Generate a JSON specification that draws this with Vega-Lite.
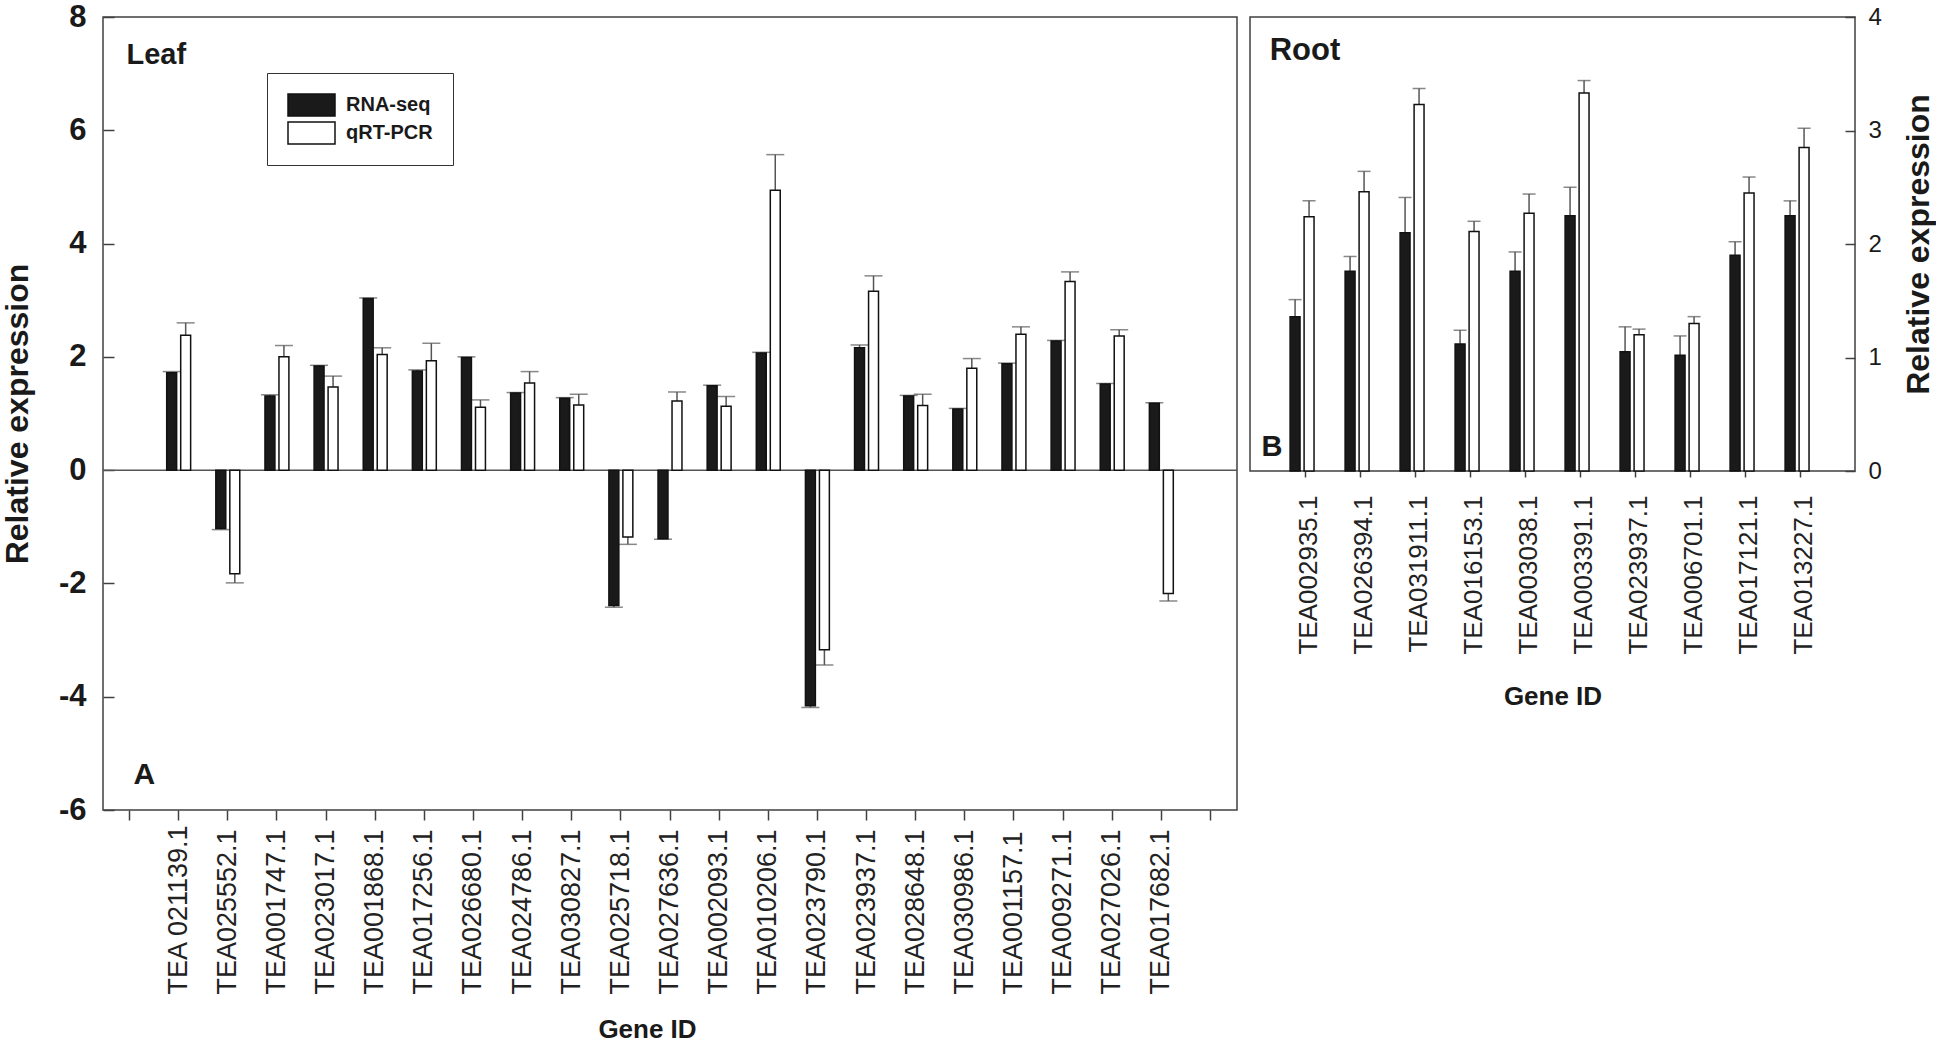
{
  "$schema": "https://vega.github.io/schema/vega-lite/v6.json",
  "background": "white",
  "padding": {"left": 0, "top": 0, "right": 0, "bottom": 0},
  "spacing": 10,
  "config": {
    "view": {"stroke": "#404040", "strokeWidth": 1.5},
    "axis": {"grid": false, "domain": false, "tickColor": "#404040", "tickWidth": 1.5, "labelColor": "#1a1a1a", "titleColor": "#1a1a1a", "labelOverlap": false},
    "font": "Liberation Sans"
  },
  "datasets": {
    "leafData": [
      {"gene": "TEA 021139.1", "series": "RNA-seq", "value": 1.72, "tip": 1.74},
      {"gene": "TEA 021139.1", "series": "qRT-PCR", "value": 2.38, "tip": 2.60},
      {"gene": "TEA025552.1", "series": "RNA-seq", "value": -1.03, "tip": -1.05},
      {"gene": "TEA025552.1", "series": "qRT-PCR", "value": -1.83, "tip": -1.99},
      {"gene": "TEA001747.1", "series": "RNA-seq", "value": 1.31, "tip": 1.33},
      {"gene": "TEA001747.1", "series": "qRT-PCR", "value": 2.00, "tip": 2.20},
      {"gene": "TEA023017.1", "series": "RNA-seq", "value": 1.84, "tip": 1.85},
      {"gene": "TEA023017.1", "series": "qRT-PCR", "value": 1.47, "tip": 1.66},
      {"gene": "TEA001868.1", "series": "RNA-seq", "value": 3.03, "tip": 3.04},
      {"gene": "TEA001868.1", "series": "qRT-PCR", "value": 2.04, "tip": 2.16},
      {"gene": "TEA017256.1", "series": "RNA-seq", "value": 1.75, "tip": 1.77},
      {"gene": "TEA017256.1", "series": "qRT-PCR", "value": 1.93, "tip": 2.24},
      {"gene": "TEA026680.1", "series": "RNA-seq", "value": 1.99, "tip": 2.00},
      {"gene": "TEA026680.1", "series": "qRT-PCR", "value": 1.11, "tip": 1.24},
      {"gene": "TEA024786.1", "series": "RNA-seq", "value": 1.36, "tip": 1.37},
      {"gene": "TEA024786.1", "series": "qRT-PCR", "value": 1.54, "tip": 1.74},
      {"gene": "TEA030827.1", "series": "RNA-seq", "value": 1.27, "tip": 1.28},
      {"gene": "TEA030827.1", "series": "qRT-PCR", "value": 1.15, "tip": 1.34},
      {"gene": "TEA025718.1", "series": "RNA-seq", "value": -2.39, "tip": -2.42},
      {"gene": "TEA025718.1", "series": "qRT-PCR", "value": -1.18, "tip": -1.31},
      {"gene": "TEA027636.1", "series": "RNA-seq", "value": -1.21, "tip": -1.22},
      {"gene": "TEA027636.1", "series": "qRT-PCR", "value": 1.22, "tip": 1.38},
      {"gene": "TEA002093.1", "series": "RNA-seq", "value": 1.49, "tip": 1.50},
      {"gene": "TEA002093.1", "series": "qRT-PCR", "value": 1.13, "tip": 1.30},
      {"gene": "TEA010206.1", "series": "RNA-seq", "value": 2.07, "tip": 2.08},
      {"gene": "TEA010206.1", "series": "qRT-PCR", "value": 4.94, "tip": 5.57},
      {"gene": "TEA023790.1", "series": "RNA-seq", "value": -4.16, "tip": -4.19},
      {"gene": "TEA023790.1", "series": "qRT-PCR", "value": -3.17, "tip": -3.44},
      {"gene": "TEA023937.1", "series": "RNA-seq", "value": 2.16, "tip": 2.21},
      {"gene": "TEA023937.1", "series": "qRT-PCR", "value": 3.16, "tip": 3.43},
      {"gene": "TEA028648.1", "series": "RNA-seq", "value": 1.31, "tip": 1.32},
      {"gene": "TEA028648.1", "series": "qRT-PCR", "value": 1.14, "tip": 1.34},
      {"gene": "TEA030986.1", "series": "RNA-seq", "value": 1.08, "tip": 1.09},
      {"gene": "TEA030986.1", "series": "qRT-PCR", "value": 1.80, "tip": 1.97},
      {"gene": "TEA001157.1", "series": "RNA-seq", "value": 1.88, "tip": 1.89},
      {"gene": "TEA001157.1", "series": "qRT-PCR", "value": 2.40, "tip": 2.53},
      {"gene": "TEA009271.1", "series": "RNA-seq", "value": 2.28, "tip": 2.29},
      {"gene": "TEA009271.1", "series": "qRT-PCR", "value": 3.33, "tip": 3.50},
      {"gene": "TEA027026.1", "series": "RNA-seq", "value": 1.52, "tip": 1.53},
      {"gene": "TEA027026.1", "series": "qRT-PCR", "value": 2.37, "tip": 2.48},
      {"gene": "TEA017682.1", "series": "RNA-seq", "value": 1.18, "tip": 1.19},
      {"gene": "TEA017682.1", "series": "qRT-PCR", "value": -2.18, "tip": -2.31}
    ],
    "rootData": [
      {"gene": "TEA002935.1", "series": "RNA-seq", "value": 1.36, "tip": 1.51},
      {"gene": "TEA002935.1", "series": "qRT-PCR", "value": 2.24, "tip": 2.38},
      {"gene": "TEA026394.1", "series": "RNA-seq", "value": 1.76, "tip": 1.89},
      {"gene": "TEA026394.1", "series": "qRT-PCR", "value": 2.46, "tip": 2.64},
      {"gene": "TEA031911.1", "series": "RNA-seq", "value": 2.10, "tip": 2.41},
      {"gene": "TEA031911.1", "series": "qRT-PCR", "value": 3.23, "tip": 3.37},
      {"gene": "TEA016153.1", "series": "RNA-seq", "value": 1.12, "tip": 1.24},
      {"gene": "TEA016153.1", "series": "qRT-PCR", "value": 2.11, "tip": 2.20},
      {"gene": "TEA003038.1", "series": "RNA-seq", "value": 1.76, "tip": 1.93},
      {"gene": "TEA003038.1", "series": "qRT-PCR", "value": 2.27, "tip": 2.44},
      {"gene": "TEA003391.1", "series": "RNA-seq", "value": 2.25, "tip": 2.50},
      {"gene": "TEA003391.1", "series": "qRT-PCR", "value": 3.33, "tip": 3.44},
      {"gene": "TEA023937.1", "series": "RNA-seq", "value": 1.05, "tip": 1.27},
      {"gene": "TEA023937.1", "series": "qRT-PCR", "value": 1.20, "tip": 1.25},
      {"gene": "TEA006701.1", "series": "RNA-seq", "value": 1.02, "tip": 1.19},
      {"gene": "TEA006701.1", "series": "qRT-PCR", "value": 1.30, "tip": 1.36},
      {"gene": "TEA017121.1", "series": "RNA-seq", "value": 1.90, "tip": 2.02},
      {"gene": "TEA017121.1", "series": "qRT-PCR", "value": 2.45, "tip": 2.59},
      {"gene": "TEA013227.1", "series": "RNA-seq", "value": 2.25, "tip": 2.38},
      {"gene": "TEA013227.1", "series": "qRT-PCR", "value": 2.85, "tip": 3.02}
    ]
  },
  "hconcat": [
    {
      "width": 1134,
      "height": 793,
      "resolve": {"scale": {"fill": "independent"}},
      "layer": [
        {
          "data": {"values": [{"z": 0}]},
          "mark": {"type": "rule", "color": "#555555", "strokeWidth": 1.5},
          "encoding": {"y": {"field": "z", "type": "quantitative", "title": "Relative expression"}}
        },
        {
          "data": {"name": "leafData"},
          "mark": {"type": "rule", "color": "#555555", "strokeWidth": 1.5},
          "encoding": {
            "x": {"field": "gene", "type": "nominal", "title": "Gene ID"},
            "xOffset": {"field": "series", "type": "nominal"},
            "y": {"field": "value", "type": "quantitative", "title": "Relative expression"},
            "y2": {"field": "tip"}
          }
        },
        {
          "data": {"name": "leafData"},
          "mark": {"type": "tick", "color": "#555555", "thickness": 1.5, "size": 18, "orient": "horizontal"},
          "encoding": {
            "x": {"field": "gene", "type": "nominal", "title": "Gene ID"},
            "xOffset": {"field": "series", "type": "nominal"},
            "y": {"field": "tip", "type": "quantitative", "title": "Relative expression"}
          }
        },
        {
          "data": {"name": "leafData"},
          "mark": {"type": "bar", "stroke": "#111111", "strokeWidth": 1.5},
          "encoding": {
            "x": {
              "field": "gene", "type": "nominal", "title": "Gene ID",
              "scale": {"domain": ["pad0","TEA 021139.1","TEA025552.1","TEA001747.1","TEA023017.1","TEA001868.1","TEA017256.1","TEA026680.1","TEA024786.1","TEA030827.1","TEA025718.1","TEA027636.1","TEA002093.1","TEA010206.1","TEA023790.1","TEA023937.1","TEA028648.1","TEA030986.1","TEA001157.1","TEA009271.1","TEA027026.1","TEA017682.1","pad22"], "paddingInner": 0, "paddingOuter": 0.04},
              "axis": {"labelAngle": -90, "labelAlign": "left", "labelBaseline": "middle", "tickSize": 10, "labelPadding": 174, "labelFont": "Liberation Sans", "labelFontSize": 27, "labelColor": "#222222", "labelExpr": "indexof(datum.label, 'pad') === 0 ? '' : datum.label", "titleFont": "Liberation Sans", "titleFontWeight": "bold", "titleFontSize": 26, "titlePadding": 22, "titleX": 544}
            },
            "xOffset": {"field": "series", "type": "nominal", "scale": {"domain": ["RNA-seq", "qRT-PCR"], "paddingInner": 0.29, "paddingOuter": 0.9}},
            "y": {
              "field": "value", "type": "quantitative", "title": "Relative expression",
              "scale": {"domain": [-6, 8], "nice": false, "zero": false},
              "axis": {"values": [-6, -4, -2, 0, 2, 4, 6, 8], "labelExpr": "'' + datum.value", "tickSize": -11, "labelPadding": 28, "labelFont": "Liberation Sans", "labelFontWeight": "bold", "labelFontSize": 31, "titleFont": "Liberation Sans", "titleFontWeight": "bold", "titleFontSize": 32, "titlePadding": 24}
            },
            "fill": {
              "field": "series", "type": "nominal",
              "scale": {"domain": ["RNA-seq", "qRT-PCR"], "range": ["#1a1a1a", "#ffffff"]},
              "legend": {"title": null, "orient": "none", "legendX": 164, "legendY": 56, "symbolType": "M-1,-0.468L1,-0.468L1,0.468L-1,0.468Z", "symbolSize": 2209, "symbolStrokeColor": "#111111", "symbolStrokeWidth": 1.5, "clipHeight": 24, "labelFont": "Liberation Sans", "labelFontWeight": "bold", "labelFontSize": 20, "labelColor": "#1a1a1a", "labelOffset": 10, "padding": 20, "strokeColor": "#333333", "rowPadding": 4}
            }
          }
        },
        {
          "data": {"values": [{"label": "Leaf"}]},
          "mark": {"type": "text", "align": "left", "baseline": "alphabetic", "dx": -3, "font": "Liberation Sans", "fontWeight": "bold", "fontSize": 29, "color": "#1a1a1a"},
          "encoding": {"x": {"datum": "pad0", "type": "nominal"}, "y": {"datum": 7.17, "type": "quantitative"}, "text": {"field": "label"}}
        },
        {
          "data": {"values": [{"label": "A"}]},
          "mark": {"type": "text", "align": "left", "baseline": "alphabetic", "dx": 4, "font": "Liberation Sans", "fontWeight": "bold", "fontSize": 30, "color": "#1a1a1a"},
          "encoding": {"x": {"datum": "pad0", "type": "nominal"}, "y": {"datum": -5.54, "type": "quantitative"}, "text": {"field": "label"}}
        }
      ]
    },
    {
      "width": 605,
      "height": 454,
      "layer": [
        {
          "data": {"name": "rootData"},
          "mark": {"type": "rule", "color": "#555555", "strokeWidth": 1.5},
          "encoding": {
            "x": {"field": "gene", "type": "nominal", "title": "Gene ID"},
            "xOffset": {"field": "series", "type": "nominal"},
            "y": {"field": "value", "type": "quantitative", "title": "Relative expression"},
            "y2": {"field": "tip"}
          }
        },
        {
          "data": {"name": "rootData"},
          "mark": {"type": "tick", "color": "#555555", "thickness": 1.5, "size": 13, "orient": "horizontal"},
          "encoding": {
            "x": {"field": "gene", "type": "nominal", "title": "Gene ID"},
            "xOffset": {"field": "series", "type": "nominal"},
            "y": {"field": "tip", "type": "quantitative", "title": "Relative expression"}
          }
        },
        {
          "data": {"name": "rootData"},
          "mark": {"type": "bar", "stroke": "#111111", "strokeWidth": 1.5},
          "encoding": {
            "x": {
              "field": "gene", "type": "nominal", "title": "Gene ID",
              "scale": {"domain": ["TEA002935.1","TEA026394.1","TEA031911.1","TEA016153.1","TEA003038.1","TEA003391.1","TEA023937.1","TEA006701.1","TEA017121.1","TEA013227.1"], "paddingInner": 0, "paddingOuter": 0.5},
              "axis": {"labelAngle": -90, "labelAlign": "right", "labelBaseline": "middle", "tickSize": 6, "labelPadding": 18, "labelOffset": 4, "labelFont": "Liberation Sans", "labelFontSize": 26, "labelColor": "#222222", "titleFont": "Liberation Sans", "titleFontWeight": "bold", "titleFontSize": 26, "titlePadding": 29}
            },
            "xOffset": {"field": "series", "type": "nominal", "scale": {"domain": ["RNA-seq", "qRT-PCR"], "paddingInner": 0.375, "paddingOuter": 0.906}},
            "y": {
              "field": "value", "type": "quantitative", "title": "Relative expression",
              "scale": {"domain": [0, 4], "nice": false},
              "axis": {"orient": "right", "values": [0, 1, 2, 3, 4], "format": "d", "tickSize": -10, "labelPadding": 23, "labelFont": "Liberation Sans", "labelFontSize": 24, "titleFont": "Liberation Sans", "titleFontWeight": "bold", "titleFontSize": 32, "titleAngle": 270, "titleBaseline": "top", "titlePadding": 22}
            },
            "fill": {
              "field": "series", "type": "nominal",
              "scale": {"domain": ["RNA-seq", "qRT-PCR"], "range": ["#1a1a1a", "#ffffff"]},
              "legend": null
            }
          }
        },
        {
          "data": {"values": [{"label": "Root"}]},
          "mark": {"type": "text", "align": "center", "baseline": "alphabetic", "font": "Liberation Sans", "fontWeight": "bold", "fontSize": 31, "color": "#1a1a1a"},
          "encoding": {"x": {"datum": "TEA002935.1", "type": "nominal"}, "y": {"datum": 3.62, "type": "quantitative"}, "text": {"field": "label"}}
        },
        {
          "data": {"values": [{"label": "B"}]},
          "mark": {"type": "text", "align": "center", "baseline": "alphabetic", "dx": -33, "font": "Liberation Sans", "fontWeight": "bold", "fontSize": 29, "color": "#1a1a1a"},
          "encoding": {"x": {"datum": "TEA002935.1", "type": "nominal"}, "y": {"datum": 0.13, "type": "quantitative"}, "text": {"field": "label"}}
        }
      ]
    }
  ]
}
